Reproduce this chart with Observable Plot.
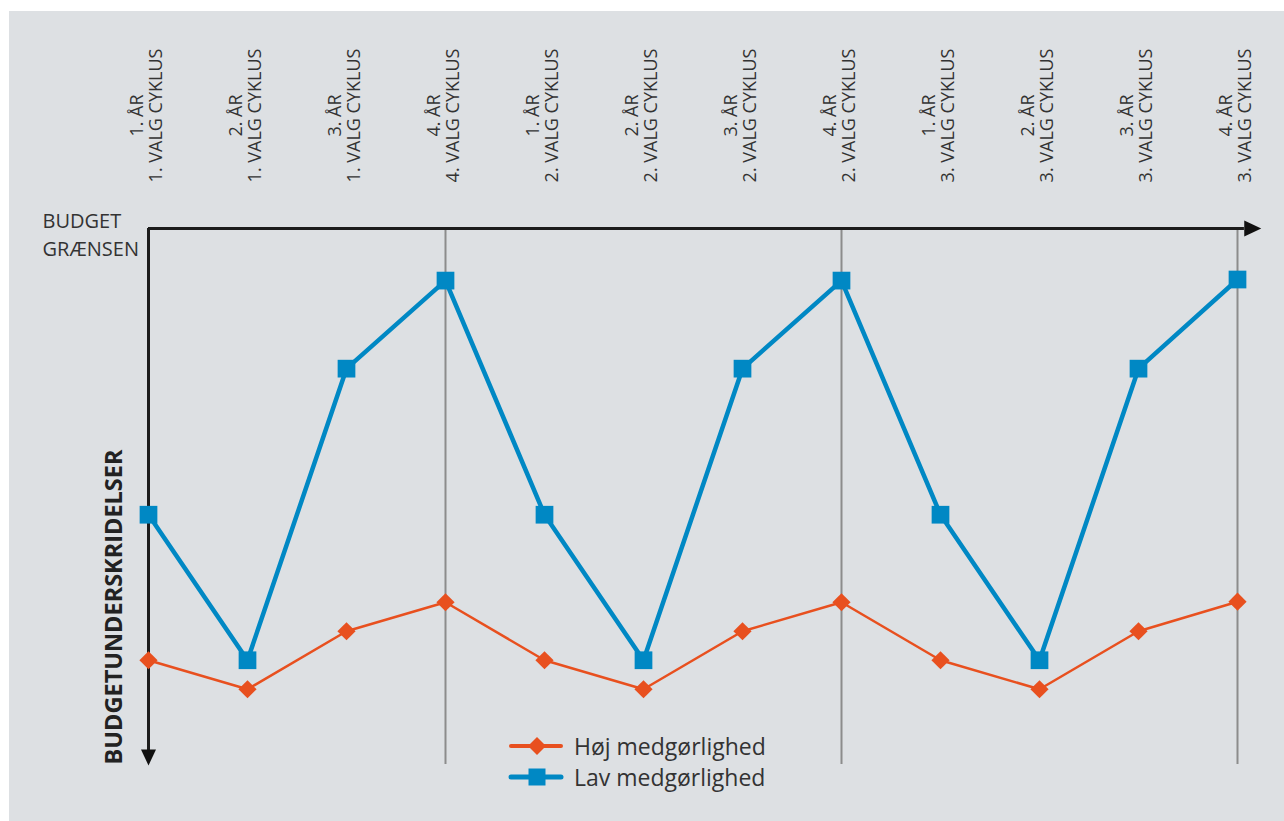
<!DOCTYPE html>
<html>
<head>
<meta charset="utf-8">
<script src="https://cdn.jsdelivr.net/npm/d3@7"></script>
<script src="https://cdn.jsdelivr.net/npm/@observablehq/plot@0.6"></script>
<style>
  html, body { margin: 0; padding: 0; background: #ffffff; width: 1284px; height: 821px; overflow: hidden; }
  #panel { position: absolute; left: 9px; top: 11px; width: 1275px; height: 810px; background: #DDE0E3; }
  #chart { position: absolute; left: 0; top: 0; }
  .legend-row { position: absolute; left: 508px; height: 30px; display: flex; align-items: center;
    font-family: "Open Sans", sans-serif; font-size: 23px; color: #333; }
  .legend-row svg { margin-right: 10px; }
</style>
</head>
<body>
<div id="panel"><div id="chart"></div></div>
<div class="legend-row" id="leg1" style="top:731px"></div>
<div class="legend-row" id="leg2" style="top:762px"></div>
<script>
// ---- data ----
const steps = [0, 1, 2, 3, 4, 5, 6, 7, 8, 9, 10, 11];
const yearLabels = ["1. ÅR", "2. ÅR", "3. ÅR", "4. ÅR", "1. ÅR", "2. ÅR", "3. ÅR", "4. ÅR", "1. ÅR", "2. ÅR", "3. ÅR", "4. ÅR"];
const cycleLabels = ["1. VALG CYKLUS", "1. VALG CYKLUS", "1. VALG CYKLUS", "4. VALG CYKLUS",
                     "2. VALG CYKLUS", "2. VALG CYKLUS", "2. VALG CYKLUS", "2. VALG CYKLUS",
                     "3. VALG CYKLUS", "3. VALG CYKLUS", "3. VALG CYKLUS", "3. VALG CYKLUS"];
// budget underrun (0 = budget limit, larger = further below)
const highCompliance = [80.4, 85.8, 75.0, 69.6, 80.4, 85.8, 75.0, 69.6, 80.4, 85.8, 75.0, 69.5];
const lowCompliance  = [53.3, 80.4, 26.1, 9.7, 53.3, 80.4, 26.1, 9.7, 53.3, 80.4, 26.1, 9.5];
const seriesNames = ["Høj medgørlighed", "Lav medgørlighed"];
const seriesColors = ["#E8501F", "#0088C4"];
const gridSteps = [3, 7, 11];
const budgetLabel = "BUDGET\nGRÆNSEN";
const yLabel = "BUDGETUNDERSKRIDELSER";

const rows = steps.map(i => ({
  step: i, high: highCompliance[i], low: lowCompliance[i],
  label: yearLabels[i] + "\n" + cycleLabels[i]
}));

// filled arrowhead symbols
const arrowRight = { draw(ctx) { ctx.moveTo(0, 0); ctx.lineTo(-17, -8); ctx.lineTo(-17, 8); ctx.closePath(); } };
const arrowDown  = { draw(ctx) { ctx.moveTo(0, 0); ctx.lineTo(-7.5, -16); ctx.lineTo(7.5, -16); ctx.closePath(); } };

const chart = Plot.plot({
  width: 1275,
  height: 810,
  marginTop: 217,
  marginBottom: 56,
  marginLeft: 139,
  marginRight: 47,
  x: { domain: [0, 11], axis: null },
  y: { domain: [0, 100], reverse: true, axis: null },
  style: { background: "transparent", fontFamily: "Open Sans, sans-serif", overflow: "visible" },
  marks: [
    Plot.ruleX(gridSteps, { y1: 0, y2: 99.8, stroke: "#8c8c8c", strokeWidth: 2 }),
    Plot.ruleY([0], { x1: 0, x2: 11.07, stroke: "#1c1c1c", strokeWidth: 3 }),
    Plot.ruleX([0], { y1: 0, y2: 97.5, stroke: "#1c1c1c", strokeWidth: 3 }),
    Plot.dot([11.24], { x: d => d, y: () => 0, symbol: arrowRight, r: 8, fill: "#111", stroke: "none" }),
    Plot.dot([100], { x: () => 0, y: d => d, symbol: arrowDown, r: 8, fill: "#111", stroke: "none" }),
    Plot.line(rows, { x: "step", y: "high", stroke: seriesColors[0], strokeWidth: 2.5 }),
    Plot.line(rows, { x: "step", y: "low", stroke: seriesColors[1], strokeWidth: 4.5 }),
    Plot.dot(rows, { x: "step", y: "high", symbol: "diamond2", r: 8.2, fill: seriesColors[0], stroke: "none" }),
    Plot.dot(rows, { x: "step", y: "low", symbol: "square", r: 10, fill: seriesColors[1], stroke: "none" }),
    Plot.text(rows, { x: "step", y: () => 0, text: "label", rotate: -90, dy: -113, dx: -2,
      textAnchor: "middle", lineAnchor: "middle", lineHeight: 1.05, fontSize: 18, fill: "#333" }),
    Plot.text([budgetLabel], { x: () => 0, y: () => 0, text: d => d, textAnchor: "start", lineAnchor: "middle",
      dx: -106, dy: 5, lineHeight: 1.4, fontSize: 20, fill: "#333" }),
    Plot.text([yLabel], { x: () => 0, y: () => 100, text: d => d, rotate: -90, textAnchor: "start",
      lineAnchor: "middle", dx: -34, dy: -1, fontSize: 23.5, fontWeight: "bold", fill: "#222" })
  ]
});
document.getElementById("chart").appendChild(chart);

// legend
function swatch(i) {
  const ns = "http://www.w3.org/2000/svg";
  const svg = document.createElementNS(ns, "svg");
  svg.setAttribute("width", 56); svg.setAttribute("height", 26);
  const line = document.createElementNS(ns, "line");
  line.setAttribute("x1", 3); line.setAttribute("x2", 53); line.setAttribute("y1", 13); line.setAttribute("y2", 13);
  line.setAttribute("stroke", seriesColors[i]); line.setAttribute("stroke-width", i === 0 ? 4 : 5);
  line.setAttribute("stroke-linecap", "round");
  svg.appendChild(line);
  const m = document.createElementNS(ns, "path");
  m.setAttribute("d", i === 0 ? "M29,4L38,13L29,22L20,13Z" : "M20.5,4.5H37.5V21.5H20.5Z");
  m.setAttribute("fill", seriesColors[i]);
  svg.appendChild(m);
  return svg;
}
["leg1", "leg2"].forEach((id, i) => {
  const el = document.getElementById(id);
  el.appendChild(swatch(i));
  const span = document.createElement("span");
  span.textContent = seriesNames[i];
  el.appendChild(span);
});
</script>
</body>
</html>
